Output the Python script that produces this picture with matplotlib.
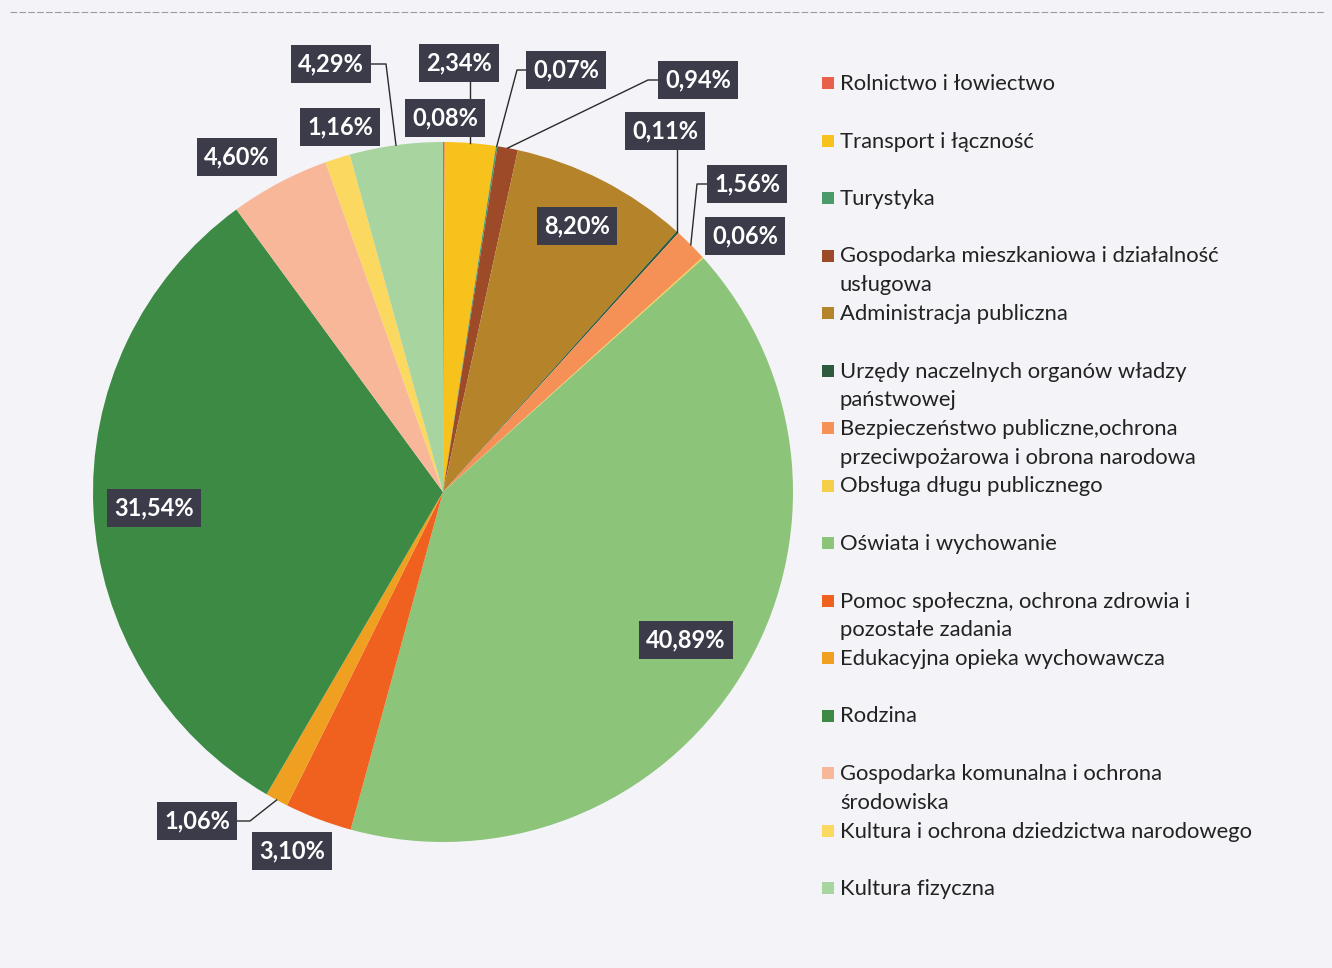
import matplotlib.pyplot as plt
import numpy as np
from matplotlib.patches import Rectangle

# ---------------- data ----------------
categories = [
    "Rolnictwo i łowiectwo",
    "Transport i łączność",
    "Turystyka",
    "Gospodarka mieszkaniowa i działalność\nusługowa",
    "Administracja publiczna",
    "Urzędy naczelnych organów władzy\npaństwowej",
    "Bezpieczeństwo publiczne,ochrona\nprzeciwpożarowa i obrona narodowa",
    "Obsługa długu publicznego",
    "Oświata i wychowanie",
    "Pomoc społeczna, ochrona zdrowia i\npozostałe zadania",
    "Edukacyjna opieka wychowawcza",
    "Rodzina",
    "Gospodarka komunalna i ochrona\nśrodowiska",
    "Kultura i ochrona dziedzictwa narodowego",
    "Kultura fizyczna",
]
values = [0.08, 2.34, 0.07, 0.94, 8.20, 0.11, 1.56, 0.06, 40.89,
          3.10, 1.06, 31.54, 4.60, 1.16, 4.29]
colors = ["#e8604a", "#f7c21c", "#4a9a6a", "#9c4a28", "#b5832a",
          "#2d5a3c", "#f59056", "#f5cf4a", "#8cc47a", "#f0601e",
          "#f0a020", "#3d8a45", "#f9b79a", "#fbd860", "#a8d4a0"]

# ---------------- layout (pixels) ----------------
W, H = 1332, 968
CX, CY, R = 443, 492, 350

# label box centres, same order as the slices
label_px = [(445, 118), (459, 63), (566, 70), (698, 80), (577, 226),
            (665, 131), (747, 184), (745, 236), (686, 640), (292, 851),
            (197, 821), (154, 508), (237, 157), (340, 127), (331, 64)]
# leader lines: ('h', elbow x) or ('v',)
leaders = {14: ('h', 386), 1: ('v',), 2: ('h', 517), 3: ('h', 648),
           5: ('v',), 6: ('h', 697), 10: ('h', 250)}


def px(x, y):
    return (x - CX) / R, (CY - y) / R


plt.rcParams['font.family'] = ['Lato', 'DejaVu Sans']

fig = plt.figure(figsize=(W / 100, H / 100), dpi=100, facecolor='#f4f4f8')
ax = fig.add_axes([0, 0, 1, 1])

wedges, _ = ax.pie(values, colors=colors, startangle=90, counterclock=False,
                   radius=1, wedgeprops=dict(linewidth=0))

ax.set_xlim(-CX / R, (W - CX) / R)
ax.set_ylim((CY - H) / R, CY / R)
ax.set_aspect('equal')
ax.axis('off')

# scan frame
ax.plot([px(10, 12)[0], px(1325, 12)[0]], [px(10, 12)[1]] * 2,
        color='#9a9aa4', lw=0.8, ls=(0, (6, 2)), clip_on=False)

# data labels
for i, (w, v) in enumerate(zip(wedges, values)):
    lx, ly = px(*label_px[i])
    txt = f"{v:.2f}".replace('.', ',') + '%'
    ax.text(lx, ly, txt, ha='center', va='center', color='white',
            fontsize=17, fontweight='bold', zorder=5,
            bbox=dict(boxstyle='square,pad=0.3', fc='#3b3b4a', ec='none'))
    if i in leaders:
        th = np.deg2rad((w.theta1 + w.theta2) / 2)
        ex, ey = np.cos(th), np.sin(th)
        spec = leaders[i]
        if spec[0] == 'v':
            xs, ys = [ex, ex], [ey, ly]
        else:
            elx = px(spec[1], 0)[0]
            xs, ys = [ex, elx, lx], [ey, ly, ly]
        ax.plot(xs, ys, color='#2a2a2a', lw=1.0, zorder=4, clip_on=False)

# legend
for i, (name, c) in enumerate(zip(categories, colors)):
    yc = 83 + i * 57.5
    sx, sy = px(822, yc + 6)
    ax.add_patch(Rectangle((sx, sy), 12 / R, 12 / R, fc=c, ec='none',
                           clip_on=False))
    tx, ty = px(840, yc - 9)
    ax.text(tx, ty, name, ha='left', va='top', fontsize=15.8,
            color='#222222', linespacing=1.55)

fig.savefig('out.png', dpi=100, facecolor=fig.get_facecolor())
